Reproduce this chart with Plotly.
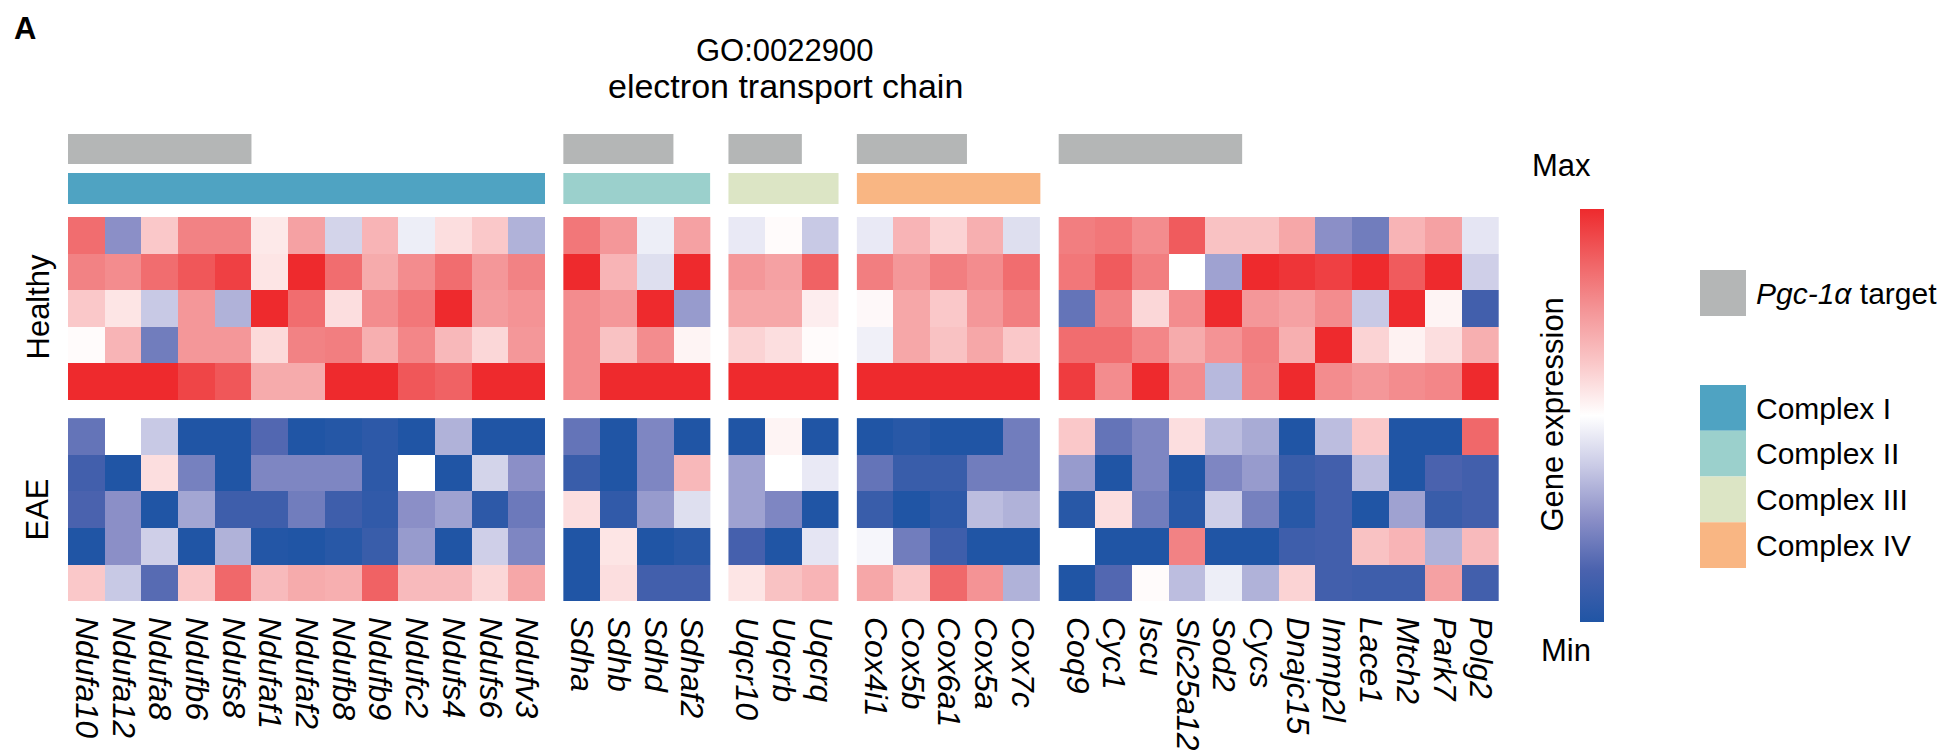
import plotly.graph_objects as go

W, H = 1955, 754
OFF = 8  # page body margin offset (screen px)

# ---------------- data ----------------
genes_c1 = ["Ndufa10", "Ndufa12", "Ndufa8", "Ndufb6", "Ndufs8", "Ndufaf1", "Ndufaf2",
            "Ndufb8", "Ndufb9", "Ndufc2", "Ndufs4", "Ndufs6", "Ndufv3"]
genes_c2 = ["Sdha", "Sdhb", "Sdhd", "Sdhaf2"]
genes_c3 = ["Uqcr10", "Uqcrb", "Uqcrq"]
genes_c4 = ["Cox4i1", "Cox5b", "Cox6a1", "Cox5a", "Cox7c"]
genes_other = ["Coq9", "Cyc1", "Iscu", "Slc25a12", "Sod2", "Cycs", "Dnajc15",
               "Immp2l", "Lace1", "Mtch2", "Park7", "Polg2"]

pgc_targets = ["Ndufa10", "Ndufa12", "Ndufa8", "Ndufb6", "Ndufs8",
               "Sdha", "Sdhb", "Sdhd", "Uqcr10", "Uqcrb",
               "Cox4i1", "Cox5b", "Cox6a1",
               "Coq9", "Cyc1", "Iscu", "Slc25a12", "Sod2"]

complex_names = ["Complex I", "Complex II", "Complex III", "Complex IV"]
complex_colors = ["#4fa3c2", "#9bd0cc", "#dce5c5", "#f9b683"]
pgc_color = "#b4b6b6"

# scaled expression, -1 = Min, 1 = Max (5 healthy samples, 5 EAE samples)
healthy_c1 = [
    [0.70, -0.50, 0.25, 0.60, 0.60, 0.10, 0.45, -0.20, 0.35, -0.08, 0.15, 0.25, -0.35],
    [0.60, 0.55, 0.70, 0.80, 0.90, 0.12, 1.00, 0.70, 0.40, 0.55, 0.70, 0.50, 0.60],
    [0.25, 0.12, -0.25, 0.50, -0.35, 1.00, 0.70, 0.15, 0.55, 0.65, 1.00, 0.48, 0.52],
    [0.02, 0.35, -0.60, 0.50, 0.50, 0.17, 0.60, 0.62, 0.38, 0.58, 0.33, 0.18, 0.50],
    [1.00, 1.00, 1.00, 0.88, 0.80, 0.40, 0.40, 1.00, 1.00, 0.80, 0.75, 1.00, 1.00],
]
eae_c1 = [
    [-0.65, 0.00, -0.25, -1.00, -1.00, -0.72, -1.00, -0.97, -0.92, -1.00, -0.35, -1.00, -1.00],
    [-0.80, -1.00, 0.15, -0.58, -1.00, -0.55, -0.55, -0.55, -0.92, 0.00, -1.00, -0.20, -0.50],
    [-0.75, -0.50, -1.00, -0.40, -0.82, -0.82, -0.60, -0.82, -0.90, -0.50, -0.42, -0.92, -0.62],
    [-1.00, -0.50, -0.22, -1.00, -0.35, -0.98, -1.00, -0.95, -0.85, -0.45, -1.00, -0.22, -0.55],
    [0.25, -0.25, -0.70, 0.25, 0.72, 0.32, 0.40, 0.38, 0.75, 0.32, 0.32, 0.18, 0.42],
]
healthy_c2 = [
    [0.65, 0.50, -0.08, 0.45],
    [1.00, 0.35, -0.15, 1.00],
    [0.55, 0.50, 1.00, -0.45],
    [0.55, 0.28, 0.55, 0.05],
    [0.55, 1.00, 1.00, 1.00],
]
eae_c2 = [
    [-0.65, -1.00, -0.55, -1.00],
    [-0.85, -1.00, -0.55, 0.33],
    [0.15, -0.90, -0.45, -0.15],
    [-1.00, 0.12, -1.00, -0.95],
    [-1.00, 0.15, -0.80, -0.80],
]
healthy_c3 = [
    [-0.10, 0.02, -0.25],
    [0.50, 0.45, 0.75],
    [0.42, 0.42, 0.08],
    [0.20, 0.15, 0.02],
    [1.00, 1.00, 1.00],
]
eae_c3 = [
    [-1.00, 0.05, -1.00],
    [-0.42, 0.00, -0.10],
    [-0.42, -0.55, -1.00],
    [-0.78, -1.00, -0.12],
    [0.12, 0.28, 0.35],
]
healthy_c4 = [
    [-0.10, 0.35, 0.20, 0.38, -0.15],
    [0.62, 0.50, 0.62, 0.55, 0.70],
    [0.03, 0.42, 0.25, 0.50, 0.62],
    [-0.07, 0.42, 0.28, 0.42, 0.25],
    [1.00, 1.00, 1.00, 1.00, 1.00],
]
eae_c4 = [
    [-1.00, -0.95, -1.00, -1.00, -0.60],
    [-0.65, -0.85, -0.85, -0.60, -0.60],
    [-0.85, -1.00, -0.92, -0.30, -0.35],
    [-0.04, -0.60, -0.82, -1.00, -1.00],
    [0.42, 0.25, 0.72, 0.52, -0.35],
]
healthy_other = [
    [0.62, 0.65, 0.55, 0.78, 0.28, 0.28, 0.42, -0.50, -0.60, 0.35, 0.45, -0.12],
    [0.65, 0.78, 0.62, 0.00, -0.42, 1.00, 0.95, 0.90, 1.00, 0.78, 1.00, -0.22],
    [-0.65, 0.60, 0.18, 0.55, 1.00, 0.50, 0.45, 0.55, -0.25, 1.00, 0.05, -0.80],
    [0.70, 0.70, 0.58, 0.40, 0.52, 0.62, 0.38, 1.00, 0.20, 0.06, 0.15, 0.38],
    [0.92, 0.55, 1.00, 0.55, -0.32, 0.60, 1.00, 0.55, 0.50, 0.55, 0.58, 1.00],
]
eae_other = [
    [0.25, -0.65, -0.55, 0.15, -0.30, -0.38, -1.00, -0.30, 0.25, -1.00, -1.00, 0.72],
    [-0.45, -1.00, -0.55, -1.00, -0.55, -0.45, -0.85, -0.80, -0.30, -1.00, -0.75, -0.80],
    [-0.95, 0.15, -0.60, -0.95, -0.22, -0.58, -0.95, -0.80, -1.00, -0.42, -0.85, -0.80],
    [0.00, -1.00, -1.00, 0.60, -1.00, -1.00, -0.82, -0.80, 0.28, 0.35, -0.35, 0.32],
    [-1.00, -0.72, 0.02, -0.30, -0.08, -0.35, 0.20, -0.80, -0.82, -0.82, 0.45, -0.80],
]

groups = [
    (genes_c1, healthy_c1, eae_c1),
    (genes_c2, healthy_c2, eae_c2),
    (genes_c3, healthy_c3, eae_c3),
    (genes_c4, healthy_c4, eae_c4),
    (genes_other, healthy_other, eae_other),
]

# ---------------- layout helpers ----------------
GAP = 0.5      # gap between column groups, in cell units
ROW_GAP = 0.5  # gap between Healthy and EAE blocks, in cell units

def px(p):  # screen pixel x -> paper x
    return (p - OFF) / W

def py(p):  # screen pixel y -> paper y
    return 1 - (p - OFF) / H

colorscale = [
    [0.0, "#2055a5"], [0.125, "#4a62ae"], [0.25, "#8b8fc7"], [0.375, "#c8c9e5"],
    [0.5, "#ffffff"], [0.625, "#fac8c9"], [0.75, "#f49799"], [0.875, "#f06264"],
    [1.0, "#ee2a2d"],
]

fig = go.Figure()

all_x, all_genes = [], []
col = 0
group_spans = []
for g, (genes, hz, ez) in enumerate(groups):
    xs = [col + i + GAP * g for i in range(len(genes))]
    col += len(genes)
    all_x += xs
    all_genes += genes
    group_spans.append(xs)
    y_h = list(range(5))
    y_e = [5 + ROW_GAP + r for r in range(5)]
    for yy, zz in ((y_h, hz), (y_e, ez)):
        fig.add_trace(go.Heatmap(
            x=xs, y=yy, z=zz, coloraxis="coloraxis",
            xgap=0, ygap=0, hoverinfo="skip",
        ))

n_units = all_x[-1] + 0.5
HM_L, HM_R, HM_T, HM_B = 68, 1499, 217, 601

fig.update_layout(
    width=W, height=H,
    margin=dict(l=0, r=0, t=0, b=0),
    paper_bgcolor="white", plot_bgcolor="white",
    font=dict(family="Liberation Sans, Arial, sans-serif", color="black"),
    showlegend=False,
    xaxis=dict(
        domain=[px(HM_L), px(HM_R)], range=[-0.5, n_units],
        tickmode="array", tickvals=all_x, ticktext=all_genes,
        tickangle=90, tickfont=dict(size=32, style="italic"),
        ticks="", showgrid=False, zeroline=False, showline=False,
        ticklabelstandoff=15, fixedrange=True,
    ),
    yaxis=dict(
        domain=[py(HM_B), py(HM_T)], range=[10 + ROW_GAP - 0.5, -0.5],
        showticklabels=False, ticks="", showgrid=False, zeroline=False,
        showline=False, fixedrange=True,
    ),
    coloraxis=dict(
        colorscale=colorscale, cmin=-1, cmax=1,
        colorbar=dict(
            x=px(1580), xanchor="left", xpad=0, ypad=0,
            y=py(415.5), yanchor="middle",
            len=413, lenmode="pixels", thickness=24, thicknessmode="pixels",
            outlinewidth=0, showticklabels=False, ticks="",
        ),
    ),
)

# ---------------- annotation bars ----------------
bars = []
for g, (genes, _, _) in enumerate(groups):
    xs = group_spans[g]
    run = None
    for gene, x in zip(genes, xs):
        if gene in pgc_targets:
            run = [x, x] if run is None else [run[0], x]
        elif run is not None:
            bars.append((run, pgc_color, 134, 164))
            run = None
    if run is not None:
        bars.append((run, pgc_color, 134, 164))
    if g < len(complex_names):
        bars.append(([xs[0], xs[-1]], complex_colors[g], 173, 204))

for (r, color, y0, y1) in bars:
    fig.add_shape(type="rect", xref="x", yref="paper",
                  x0=r[0] - 0.5, x1=r[1] + 0.5, y0=py(y1), y1=py(y0),
                  fillcolor=color, line=dict(width=0), layer="above")

# ---------------- legend for annotations ----------------
LG_L, LG_R = 1700, 1746
fig.add_shape(type="rect", xref="paper", yref="paper",
              x0=px(LG_L), x1=px(LG_R), y0=py(316), y1=py(270),
              fillcolor=pgc_color, line=dict(width=0))
fig.add_annotation(x=px(1754), y=py(293), xref="paper", yref="paper",
                   text="<i>Pgc-1α</i> target", showarrow=False,
                   xanchor="left", yanchor="middle", font=dict(size=30))
for i, (name, colr) in enumerate(zip(complex_names, complex_colors)):
    top = 385 + i * 45.75
    fig.add_shape(type="rect", xref="paper", yref="paper",
                  x0=px(LG_L), x1=px(LG_R), y0=py(top + 45.75), y1=py(top),
                  fillcolor=colr, line=dict(width=0))
    fig.add_annotation(x=px(1754), y=py(top + 23), xref="paper", yref="paper",
                       text=name, showarrow=False, xanchor="left",
                       yanchor="middle", font=dict(size=30))

# ---------------- texts ----------------
fig.add_annotation(x=px(12), y=py(28), xref="paper", yref="paper", text="<b>A</b>",
                   showarrow=False, xanchor="left", yanchor="middle",
                   font=dict(size=31, family="Liberation Sans Narrow, Liberation Sans, Arial"))
fig.add_annotation(x=px(785), y=py(50), xref="paper", yref="paper",
                   text="GO:0022900", showarrow=False, height=34,
                   xanchor="center", yanchor="middle", font=dict(size=31))
fig.add_annotation(x=px(785), y=py(86), xref="paper", yref="paper",
                   text="electron transport chain", showarrow=False, height=36,
                   xanchor="center", yanchor="middle", font=dict(size=34))
fig.add_annotation(x=px(18), y=py(307), xref="paper", yref="paper", text="Healthy",
                   textangle=-90, showarrow=False, font=dict(size=31))
fig.add_annotation(x=px(18), y=py(510), xref="paper", yref="paper", text="EAE",
                   textangle=-90, showarrow=False, font=dict(size=31))
fig.add_annotation(x=px(1593), y=py(146), xref="paper", yref="paper", text="Max",
                   showarrow=False, font=dict(size=31))
fig.add_annotation(x=px(1593), y=py(670), xref="paper", yref="paper", text="Min",
                   showarrow=False, font=dict(size=31))
fig.add_annotation(x=px(1571), y=py(415), xref="paper", yref="paper",
                   text="Gene expression", textangle=-90, showarrow=False,
                   font=dict(size=31))

fig.write_html("out.html")
